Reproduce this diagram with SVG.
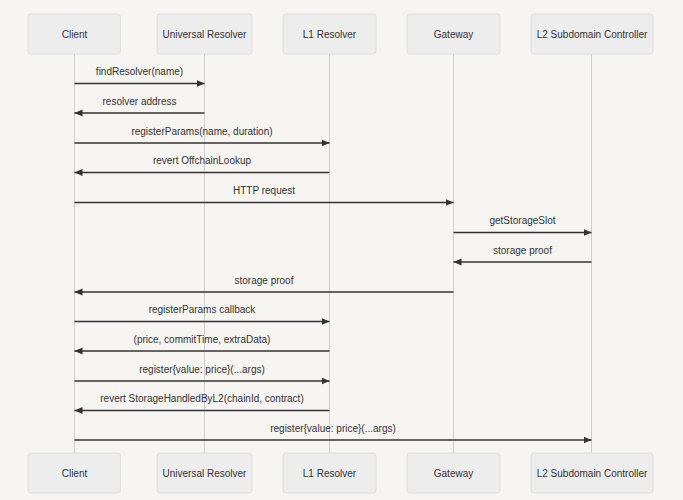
<svg xmlns="http://www.w3.org/2000/svg" width="683" height="500" viewBox="0 0 683 500">
<style>
.bg{fill:#f6f5f2}
.box{fill:#ededed;stroke:#dedede;stroke-width:1}
.life{stroke:#cfcfcf;stroke-width:1}
.msg{stroke:#333;stroke-width:1.4;fill:none}
text{font-family:"Liberation Sans",Arial,sans-serif;font-size:10px;fill:#333;text-anchor:middle}
</style>
<defs>
<marker id="ah" markerUnits="userSpaceOnUse" markerWidth="9" markerHeight="8" refX="8" refY="3.5" orient="auto">
<path d="M0,0 L8,3.5 L0,7 z" fill="#333"/>
</marker>
</defs>
<rect class="bg" x="0" y="0" width="683" height="500"/>
<g id="lifelines">
<line class="life" x1="74.5" y1="54" x2="74.5" y2="453"/>
<line class="life" x1="204.5" y1="54" x2="204.5" y2="453"/>
<line class="life" x1="329.5" y1="54" x2="329.5" y2="453"/>
<line class="life" x1="453.5" y1="54" x2="453.5" y2="453"/>
<line class="life" x1="591.5" y1="54" x2="591.5" y2="453"/>
</g>
<g id="client">
<rect class="box" x="28" y="14" width="92.5" height="40" rx="3"/>
<text x="74.5" y="37.5">Client</text>
<rect class="box" x="28" y="453" width="92.5" height="40" rx="3"/>
<text x="74.5" y="476.5">Client</text>
</g>
<g id="universal-resolver">
<rect class="box" x="157" y="14" width="95" height="40" rx="3"/>
<text x="204.5" y="37.5">Universal Resolver</text>
<rect class="box" x="157" y="453" width="95" height="40" rx="3"/>
<text x="204.5" y="476.5">Universal Resolver</text>
</g>
<g id="l1-resolver">
<rect class="box" x="283" y="14" width="93" height="40" rx="3"/>
<text x="329.5" y="37.5">L1 Resolver</text>
<rect class="box" x="283" y="453" width="93" height="40" rx="3"/>
<text x="329.5" y="476.5">L1 Resolver</text>
</g>
<g id="gateway">
<rect class="box" x="407" y="14" width="93" height="40" rx="3"/>
<text x="453.5" y="37.5">Gateway</text>
<rect class="box" x="407" y="453" width="93" height="40" rx="3"/>
<text x="453.5" y="476.5">Gateway</text>
</g>
<g id="l2-subdomain-controller">
<rect class="box" x="531" y="14" width="122" height="40" rx="3"/>
<text x="592" y="37.5">L2 Subdomain Controller</text>
<rect class="box" x="531" y="453" width="122" height="40" rx="3"/>
<text x="592" y="476.5">L2 Subdomain Controller</text>
</g>
<g id="connectors">
<line class="msg" x1="74.5" y1="83.5" x2="204.5" y2="83.5" marker-end="url(#ah)"/>
<text x="139.5" y="75">findResolver(name)</text>
<line class="msg" x1="204.5" y1="113" x2="74.5" y2="113" marker-end="url(#ah)"/>
<text x="139.5" y="104.5">resolver address</text>
<line class="msg" x1="74.5" y1="143" x2="329.5" y2="143" marker-end="url(#ah)"/>
<text x="202" y="134.5">registerParams(name, duration)</text>
<line class="msg" x1="329.5" y1="172.5" x2="74.5" y2="172.5" marker-end="url(#ah)"/>
<text x="202" y="164">revert OffchainLookup</text>
<line class="msg" x1="74.5" y1="202.5" x2="453.5" y2="202.5" marker-end="url(#ah)"/>
<text x="264" y="194">HTTP request</text>
<line class="msg" x1="453.5" y1="232.5" x2="591.5" y2="232.5" marker-end="url(#ah)"/>
<text x="522.5" y="224">getStorageSlot</text>
<line class="msg" x1="591.5" y1="262" x2="453.5" y2="262" marker-end="url(#ah)"/>
<text x="522.5" y="253.5">storage proof</text>
<line class="msg" x1="453.5" y1="292" x2="74.5" y2="292" marker-end="url(#ah)"/>
<text x="264" y="283.5">storage proof</text>
<line class="msg" x1="74.5" y1="321.5" x2="329.5" y2="321.5" marker-end="url(#ah)"/>
<text x="202" y="313">registerParams callback</text>
<line class="msg" x1="329.5" y1="351" x2="74.5" y2="351" marker-end="url(#ah)"/>
<text x="202" y="342.5">(price, commitTime, extraData)</text>
<line class="msg" x1="74.5" y1="381" x2="329.5" y2="381" marker-end="url(#ah)"/>
<text x="202" y="372.5">register{value: price}(...args)</text>
<line class="msg" x1="329.5" y1="410.5" x2="74.5" y2="410.5" marker-end="url(#ah)"/>
<text x="202" y="402">revert StorageHandledByL2(chainId, contract)</text>
<line class="msg" x1="74.5" y1="440" x2="591.5" y2="440" marker-end="url(#ah)"/>
<text x="333" y="431.5">register{value: price}(...args)</text>
</g>
</svg>
